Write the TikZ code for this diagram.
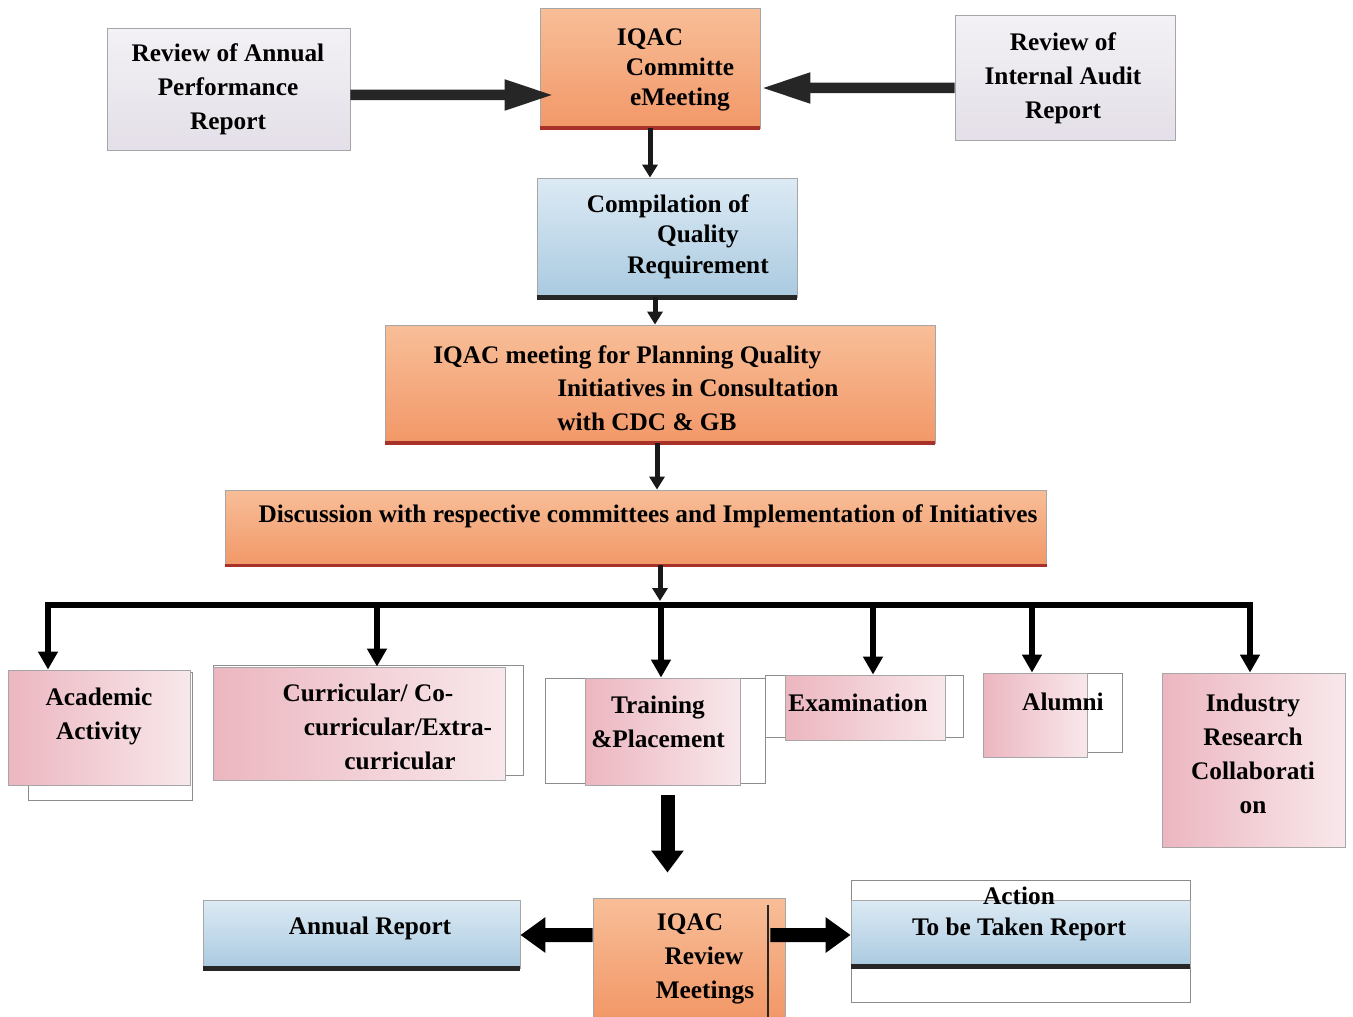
\documentclass[tikz,border=0pt]{standalone}
\usepackage{fontspec}
\setmainfont{Liberation Serif}
\usetikzlibrary{arrows.meta}
\definecolor{orA}{HTML}{F8BE98}
\definecolor{orB}{HTML}{F29868}
\definecolor{redline}{HTML}{A8322A}
\definecolor{bluA}{HTML}{DCEAF4}
\definecolor{bluB}{HTML}{AACAE0}
\definecolor{pinkA}{HTML}{ECB6C0}
\definecolor{pinkB}{HTML}{F8E8EB}
\definecolor{grayA}{HTML}{F3F1F5}
\definecolor{grayB}{HTML}{E4DFE8}
\begin{document}
\begin{tikzpicture}[x=0.02cm,y=-0.02cm,
  base/.style={rectangle,inner sep=0pt,draw=black!35,line width=0.5pt},
  obox/.style={base,top color=orA,bottom color=orB},
  bbox/.style={base,top color=bluA,bottom color=bluB},
  pbox/.style={base,left color=pinkA,right color=pinkB},
  gbox/.style={base,top color=grayA,bottom color=grayB},
  wbox/.style={base,fill=white,draw=black!45},
  txt/.style={inner sep=0pt,align=center,font=\fontsize{14.4}{19.3}\selectfont\bfseries},
  redbar/.style={line width=2.2pt,draw=redline},
  blkbar/.style={line width=2.4pt,draw=black!85},
  thinarr/.style={line width=0.1cm,draw=black!90,-{Triangle[length=0.26cm,width=0.3cm]}},
  droparr/.style={line width=0.12cm,draw=black,-{Triangle[length=0.36cm,width=0.38cm]}},
  busline/.style={line width=0.12cm,draw=black,line cap=rect},
  fatarr/.style={line width=0.21cm,draw=black!85,-{Triangle[length=1cm,width=0.56cm]}},
  bigarr/.style={line width=0.28cm,draw=black,-{Triangle[length=0.44cm,width=0.62cm]}},
  midarr/.style={line width=0.28cm,draw=black,-{Triangle[length=0.5cm,width=0.68cm]}}
]
\useasboundingbox (0,0) rectangle (1353,1017);
\fill[white] (0,0) rectangle (1353,1017);

% ---- boxes ----
\node[gbox,minimum width=4.86cm,minimum height=2.44cm] (rev) at (228.5,89) {};
\node[obox,minimum width=4.4cm,minimum height=2.4cm] (iqac) at (650,68) {};
\node[gbox,minimum width=4.4cm,minimum height=2.5cm] (aud) at (1065,77.5) {};
\node[bbox,minimum width=5.2cm,minimum height=2.38cm] (comp) at (667,237.5) {};
\node[obox,minimum width=11cm,minimum height=2.36cm] (plan) at (660,384) {};
\node[obox,minimum width=16.44cm,minimum height=1.5cm] (disc) at (636,527.5) {};

\node[wbox,minimum width=3.28cm,minimum height=2.56cm] (acadO) at (110,736) {};
\node[pbox,minimum width=3.64cm,minimum height=2.3cm] (acadP) at (99,727.5) {};
\node[wbox,minimum width=6.2cm,minimum height=2.2cm] (curO) at (368,720) {};
\node[pbox,minimum width=5.84cm,minimum height=2.26cm] (curP) at (359,723.5) {};
\node[wbox,minimum width=4.4cm,minimum height=2.1cm] (trainO) at (655,730.5) {};
\node[pbox,minimum width=3.1cm,minimum height=2.14cm] (trainP) at (662.5,731.5) {};
\node[wbox,minimum width=3.96cm,minimum height=1.24cm] (examO) at (864,706) {};
\node[pbox,minimum width=3.2cm,minimum height=1.3cm] (examP) at (865,707.5) {};
\node[wbox,minimum width=2.74cm,minimum height=1.58cm] (alumO) at (1053.5,712.5) {};
\node[pbox,minimum width=2.08cm,minimum height=1.68cm] (alumP) at (1035,715) {};
\node[pbox,minimum width=3.66cm,minimum height=3.48cm] (ind) at (1253.5,760) {};

\node[bbox,minimum width=6.34cm,minimum height=1.36cm] (ann) at (361.5,934) {};
\node[obox,minimum width=3.84cm,minimum height=2.38cm] (rvw) at (689,957.5) {};
\node[wbox,minimum width=6.78cm,minimum height=2.44cm] (actO) at (1020.5,941) {};
\node[bbox,minimum width=6.78cm,minimum height=1.32cm] (actB) at (1020.5,933) {};

% ---- bottom bars ----
\draw[redbar] (iqac.south west) -- (iqac.south east);
\draw[redbar] (plan.south west) -- (plan.south east);
\draw[redbar] (disc.south west) -- (disc.south east);
\draw[blkbar] (comp.south west) -- (comp.south east);
\draw[blkbar] (ann.south west) -- (ann.south east);
\draw[blkbar] (actB.south west) -- (actB.south east);
\draw[black!85,line width=1.2pt] ([xshift=-0.34cm,yshift=-0.14cm]rvw.north east) -- ([xshift=-0.34cm]rvw.south east);

% ---- texts ----
\node[txt] (t-rev) at (228,89.5) {Review of Annual\\Performance\\Report};
\node[txt,font=\fontsize{14.4}{17}\selectfont\bfseries] (t-iqac) at (650,70) {IQAC\\\hspace*{1.2cm}Committe\\\hspace*{1.2cm}eMeeting};
\node[txt] (t-aud) at (1063,78) {Review of\\Internal Audit\\Report};
\node[txt,font=\fontsize{14.4}{17.4}\selectfont\bfseries] (t-comp) at (668,236.5) {Compilation of\\\hspace*{1.2cm}Quality\\\hspace*{1.2cm}Requirement};
\node[txt,align=left,anchor=west,font=\fontsize{14.4}{19}\selectfont\bfseries] (t-plan) at (433,388) {IQAC meeting for Planning Quality\\\hspace*{2.48cm}Initiatives in Consultation\\\hspace*{2.48cm}with CDC \& GB};
\node[txt] (t-disc) at (648,516) {Discussion with respective committees and Implementation of Initiatives};
\node[txt] (t-acad) at (99,716.5) {Academic\\Activity};
\node[txt] (t-cur) at (368,727) {Curricular/ Co-\\\hspace*{1.2cm}curricular/Extra-\\\hspace*{1.28cm}curricular};
\node[txt] (t-train) at (658,721.5) {Training\\\&Placement};
\node[txt] (t-exam) at (858,703) {Examination};
\node[txt] (t-alum) at (1063,702) {Alumni};
\node[txt] (t-ind) at (1253,754) {Industry\\Research\\Collaborati\\on};
\node[txt] (t-ann) at (370,928) {Annual Report};
\node[txt] (t-rvw) at (690,959) {IQAC\\\hspace*{0.56cm}Review\\\hspace*{0.6cm}Meetings};
\node[txt,font=\fontsize{14.4}{17.6}\selectfont\bfseries] (t-act) at (1019,913.5) {Action\\To be Taken Report};

% ---- connectors ----
\draw[fatarr] ([yshift=-0.12cm]rev.east) -- ([xshift=0.3cm,yshift=-0.54cm]iqac.west);
\draw[fatarr] ([yshift=-0.21cm]aud.west) -- ([yshift=-0.4cm]iqac.east);
\draw[thinarr] (iqac.south) -- (iqac.south |- comp.north);
\draw[thinarr] ([xshift=-0.24cm]comp.south) -- ([xshift=-0.24cm]comp.south |- plan.north);
\draw[thinarr] ([xshift=-0.06cm]plan.south) -- ([xshift=-0.06cm]plan.south |- disc.north);

\coordinate (bus) at (660,605);
\coordinate (busL) at (48,605);
\coordinate (b2) at (377,605);
\coordinate (b3) at (661,605);
\coordinate (b4) at (873,605);
\coordinate (b5) at (1032,605);
\coordinate (busR) at (1250,605);
\draw[thinarr] (bus |- disc.south) -- ([yshift=0.08cm]bus);
\draw[busline] (busL) -- (busR);
\draw[droparr] (busL) -- (busL |- acadP.north);
\draw[droparr] (b2) -- (b2 |- curP.north);
\draw[droparr] (b3) -- (b3 |- trainP.north);
\draw[droparr] (b4) -- (b4 |- examP.north);
\draw[droparr] (b5) -- (b5 |- alumP.north);
\draw[droparr] (busR) -- (busR |- ind.north);

\draw[bigarr] ([xshift=0.1cm,yshift=-0.2cm]trainP.south) -- ([xshift=0.1cm,yshift=0.5cm]trainP.south |- rvw.north);
\draw[midarr] ([yshift=0.45cm]rvw.west) -- ([yshift=-0.02cm]ann.east);
\draw[midarr] ([xshift=-0.3cm,yshift=0.45cm]rvw.east) -- ([yshift=0.12cm]actO.west);
\end{tikzpicture}
\end{document}
